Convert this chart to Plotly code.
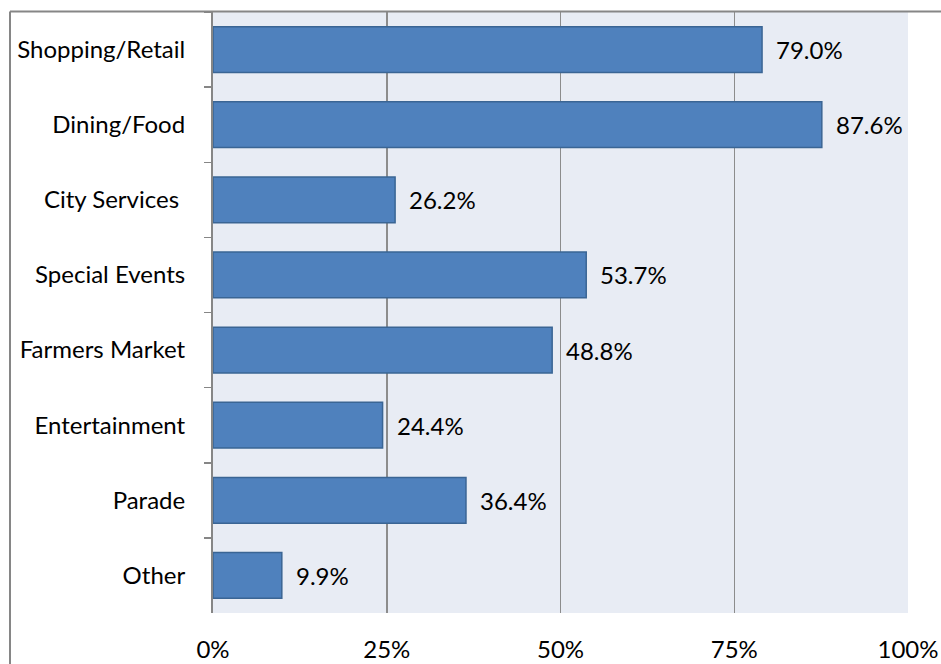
import plotly.graph_objects as go

categories = ["Shopping/Retail", "Dining/Food", "City Services\u00a0", "Special Events",
              "Farmers Market", "Entertainment", "Parade", "Other"]
values = [0.790, 0.876, 0.262, 0.537, 0.488, 0.244, 0.364, 0.099]
x_ticks = [0, 0.25, 0.5, 0.75, 1.0]
x_tick_labels = ["0%", "25%", "50%", "75%", "100%"]

FONT = "Lato, Liberation Sans, sans-serif"
FS = 24

fig = go.Figure()
fig.add_trace(go.Bar(
    x=values, y=categories, orientation="h",
    marker=dict(color="#4F81BD", line=dict(color="#3A6594", width=1.5)),
    width=0.61,
    hoverinfo="skip",
))

for v, c in zip(values, categories):
    fig.add_annotation(x=v, y=c, xref="x", yref="y", text=f"{v*100:.1f}%",
                       showarrow=False, xanchor="left", xshift=12,
                       font=dict(family=FONT, size=FS, color="#000000"))

W, H = 941, 664
ml, mr, mt, mb = 213, 33, 12, 51
pw = W - ml - mr
ph = H - mt - mb
# outer chart border (top and left), in paper coords
x_left = (10 - ml) / pw
x_right = (W + 5 - ml) / pw
y_top = 1 + 0.5 / ph
y_bottom = -(mb + 10) / ph
fig.add_shape(type="line", xref="paper", yref="paper", x0=x_left, x1=x_right,
              y0=y_top, y1=y_top, line=dict(color="#868686", width=2), layer="above")
fig.add_shape(type="line", xref="paper", yref="paper", x0=x_left, x1=x_left,
              y0=y_top, y1=y_bottom, line=dict(color="#868686", width=2), layer="above")

fig.update_layout(
    width=W, height=H,
    margin=dict(l=ml, r=mr, t=mt, b=mb, pad=0, autoexpand=False),
    paper_bgcolor="white",
    plot_bgcolor="#E8ECF4",
    showlegend=False,
    font=dict(family=FONT, size=FS, color="#000000"),
    xaxis=dict(range=[0, 1], tickvals=x_ticks, ticktext=x_tick_labels,
               showgrid=True, gridcolor="#8C8C8C", gridwidth=1.5,
               zeroline=False, showline=False, ticks="",
               automargin=False, ticklabeloverflow="allow",
               ticklabelstandoff=20, tickfont=dict(family=FONT, size=FS),
               fixedrange=True),
    yaxis=dict(autorange="reversed", showgrid=False, zeroline=False,
               showline=True, linecolor="#868686", linewidth=2,
               ticks="outside", tickson="boundaries", ticklen=7,
               tickcolor="#868686", tickwidth=1.5, automargin=False,
               ticklabelstandoff=21, tickfont=dict(family=FONT, size=FS),
               fixedrange=True),
)

# remove the default 8px page margin so the 941x664 figure fills the window
fig.write_html("out.html",
               config={"displayModeBar": False, "staticPlot": True},
               post_script="document.body.style.margin='0';"
                           "document.body.style.overflow='hidden';")
